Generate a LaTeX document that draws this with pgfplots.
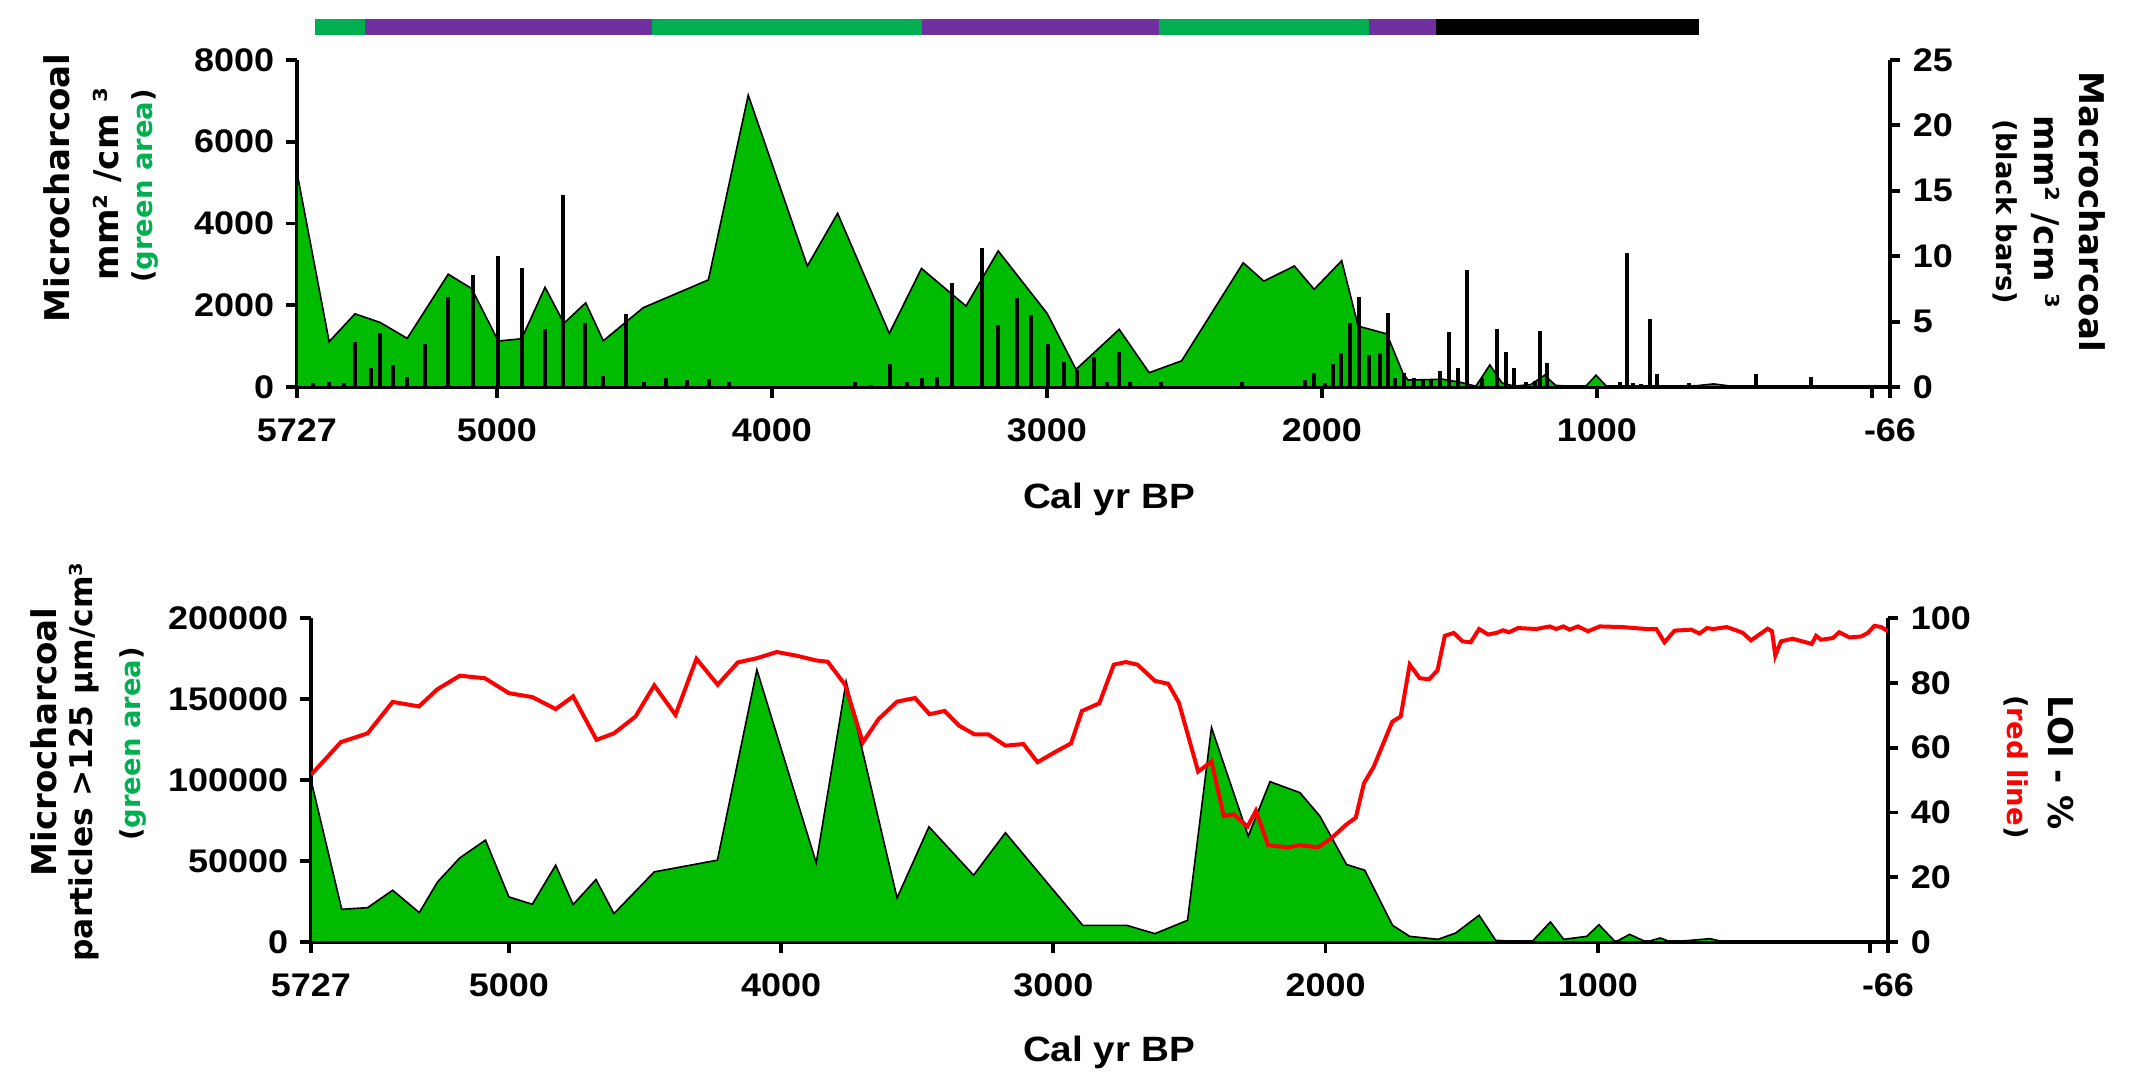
\documentclass[border=0pt]{standalone}
\usepackage{fontspec}
\usepackage{pgfplots}
\pgfplotsset{compat=1.18}
\newfontfamily\tickfont{Liberation Sans}[FakeStretch=1.1]
\newfontfamily\labfont{DejaVu Sans}

\definecolor{areagreen}{RGB}{0,187,0}
\definecolor{zonegreen}{RGB}{0,176,80}
\definecolor{zonepurple}{RGB}{112,48,160}

\pgfplotsset{
  charcoal/.style={
    scale only axis,
    xmin=-66, xmax=5727, x dir=reverse,
    tick align=outside,
    major tick length=1.05mm,
    axis line style={line width=0.38mm, -},
    every tick/.style={black, line width=0.38mm},
    tick label style={font=\tickfont\bfseries\fontsize{9.3}{11}\selectfont},
    xticklabel style={yshift=-0.9mm},
    /pgf/number format/.cd, fixed, 1000 sep={}, assume math mode=true,
  },
}
\newcommand{\biglab}{\labfont\bfseries\fontsize{9.7}{11}\selectfont}
\newcommand{\midlab}{\labfont\bfseries\fontsize{8.9}{10}\selectfont}
\newcommand{\smalllab}{\labfont\bfseries\fontsize{7.8}{9}\selectfont}

\begin{document}
\begin{tikzpicture}
\path (0,0) rectangle (214.2mm,107.9mm);

% zone bar above the top panel
\begin{axis}[scale only axis, at={(29.7mm,104.4mm)}, anchor=south west,
  width=159.3mm, height=1.6mm, xmin=-66, xmax=5727, x dir=reverse,
  ymin=0, ymax=1, hide axis]
\addplot[fill=zonegreen, draw=none] coordinates {(5661,1) (5480,1)} \closedcycle;
\addplot[fill=zonepurple, draw=none] coordinates {(5480,1) (4435,1)} \closedcycle;
\addplot[fill=zonegreen, draw=none] coordinates {(4435,1) (3453,1)} \closedcycle;
\addplot[fill=zonepurple, draw=none] coordinates {(3453,1) (2594,1)} \closedcycle;
\addplot[fill=zonegreen, draw=none] coordinates {(2594,1) (1830,1)} \closedcycle;
\addplot[fill=zonepurple, draw=none] coordinates {(1830,1) (1586,1)} \closedcycle;
\addplot[fill=black, draw=none] coordinates {(1586,1) (629,1)} \closedcycle;
\end{axis}

% top panel: microcharcoal area
\begin{axis}[charcoal, at={(29.7mm,69.2mm)}, anchor=south west,
  width=159.3mm, height=32.7mm,
  ymin=0, ymax=8000, ytick={0,2000,...,8000},
  axis x line*=bottom, axis y line*=left,
  xtick={5727,5000,4000,3000,2000,1000,0,-66},
  xticklabels={5727,5000,4000,3000,2000,1000,,-66}]
\addplot[fill=areagreen, draw=black, line width=0.16mm] coordinates {
(5727,5250) (5610,1110) (5516,1790) (5425,1580) (5326,1190) (5177,2760)
(5092,2410) (4995,1125) (4910,1180) (4825,2440) (4756,1560) (4677,2060)
(4613,1130) (4468,1940) (4231,2620) (4086,7140) (3871,2960) (3761,4250)
(3573,1310) (3456,2900) (3294,1980) (3177,3330) (2999,1800) (2894,430)
(2737,1410) (2628,350) (2510,640) (2286,3040) (2211,2590) (2100,2960)
(2028,2390) (1928,3090) (1868,1490) (1764,1300) (1704,320) (1686,170)
(1560,190) (1500,120) (1440,20) (1389,540) (1345,100) (1300,20)
(1240,60) (1190,290) (1150,40) (1100,20) (1040,20) (1003,290)
(965,20) (800,20) (640,30) (575,75) (510,20) (-66,0)
} \closedcycle;
\end{axis}

% top panel: macrocharcoal bars
\begin{axis}[charcoal, at={(29.7mm,69.2mm)}, anchor=south west,
  width=159.3mm, height=32.7mm,
  ymin=0, ymax=25, ytick={0,5,...,25},
  axis y line*=right, axis x line=none]
\addplot[ycomb, black, line width=0.4mm] coordinates {
(5670,0.28) (5611,0.41) (5556,0.28) (5516,3.47) (5458,1.48) (5425,4.10)
(5379,1.68) (5326,0.79) (5262,3.29) (5177,6.85) (5086,8.56) (4997,10.01)
(4910,9.07) (4825,4.41) (4761,14.68) (4679,4.87) (4613,0.84) (4532,5.58)
(4464,0.41) (4385,0.66) (4310,0.54) (4229,0.61) (4155,0.41) (3697,0.36)
(3639,0.15) (3572,1.76) (3507,0.41) (3455,0.66) (3400,0.79) (3345,7.92)
(3236,10.65) (3176,4.71) (3107,6.83) (3058,5.50) (2996,3.29) (2936,1.89)
(2891,1.30) (2827,2.32) (2780,0.36) (2737,2.70) (2697,0.36) (2585,0.36)
(2290,0.36) (2063,0.54) (2028,1.10) (1990,0.28) (1960,1.73) (1930,2.57)
(1897,4.92) (1866,6.85) (1827,2.45) (1788,2.62) (1759,5.68) (1733,0.66)
(1700,1.04) (1664,0.66) (1634,0.54) (1603,0.54) (1569,1.25) (1537,4.23)
(1506,1.48) (1474,8.94) (1416,0.66) (1362,4.41) (1332,2.70) (1302,1.43)
(1256,0.41) (1226,0.46) (1205,4.28) (1181,1.86) (917,0.36) (890,10.27)
(868,0.28) (838,0.20) (805,5.17) (783,0.99) (664,0.28) (422,0.97)
(222,0.74) (195,0.15)
};
\end{axis}

% bottom panel: microcharcoal particles
\begin{axis}[charcoal, at={(31.1mm,13.7mm)}, anchor=south west,
  width=157.7mm, height=32.4mm,
  ymin=0, ymax=200000, ytick={0,50000,100000,150000,200000},
  yticklabels={0,50000,100000,150000,200000}, scaled y ticks=false,
  axis x line*=bottom, axis y line*=left,
  xtick={5727,5000,4000,3000,2000,1000,0,-66},
  xticklabels={5727,5000,4000,3000,2000,1000,,-66}]
\addplot[fill=areagreen, draw=black, line width=0.16mm] coordinates {
(5727,100000) (5614,20200) (5519,21200) (5427,31960) (5329,18150)
(5262,37100) (5180,51960) (5086,62900) (5000,27840) (4914,23300)
(4828,47430) (4764,23090) (4680,38560) (4614,17530) (4466,43300)
(4234,50520) (4089,168050) (3871,48870) (3761,160840) (3574,27220)
(3457,71140) (3293,41240) (3176,67430) (2892,10310) (2731,10310)
(2627,5155) (2507,13400) (2419,132380) (2284,65370) (2204,98980)
(2094,92170) (2021,77740) (1923,47840) (1856,44330) (1754,10310)
(1691,3500) (1587,1650) (1522,5570) (1436,16500) (1375,1030)
(1324,620) (1243,0) (1174,12370) (1125,1650) (1040,3500)
(996,10720) (935,0) (883,4740) (822,0) (771,2470) (731,0)
(588,2060) (535,0) (-66,0)
} \closedcycle;
\end{axis}

% bottom panel: LOI
\begin{axis}[charcoal, at={(31.1mm,13.7mm)}, anchor=south west,
  width=157.7mm, height=32.4mm,
  ymin=0, ymax=100, ytick={0,20,...,100},
  axis y line*=right, axis x line=none]
\addplot[red, line width=0.4mm] coordinates {
(5727,51.6) (5617,61.7) (5519,64.4) (5427,74.1) (5330,72.7) (5263,78.0)
(5180,82.2) (5088,81.4) (5000,76.8) (4914,75.6) (4828,71.9) (4764,75.8)
(4678,62.4) (4614,64.4) (4535,69.6) (4466,79.2) (4388,70.1) (4311,87.4)
(4233,79.4) (4159,86.3) (4089,87.6) (4016,89.5) (3945,88.4) (3871,86.9)
(3829,86.5) (3765,79.4) (3700,61.6) (3642,68.8) (3574,74.2) (3508,75.3)
(3455,70.3) (3400,71.3) (3345,66.7) (3290,64.1) (3239,64.1) (3176,60.6)
(3110,61.1) (3058,55.5) (2990,58.8) (2935,61.3) (2895,71.3) (2831,73.7)
(2778,85.6) (2734,86.4) (2691,85.6) (2627,80.6) (2578,79.7) (2539,73.9)
(2468,52.6) (2419,55.7) (2374,38.9) (2336,39.4) (2287,35.6) (2256,40.5)
(2211,29.9) (2138,29.2) (2095,29.9) (2028,29.2) (1979,32.0) (1926,36.1)
(1889,38.4) (1859,49.0) (1823,54.1) (1755,68.0) (1724,69.6) (1691,85.6)
(1654,81.4) (1620,81.1) (1589,83.8) (1562,94.5) (1529,95.4) (1497,92.8)
(1467,92.5) (1436,96.6) (1403,94.9) (1373,95.4) (1348,96.2) (1326,95.6)
(1293,96.9) (1226,96.6) (1177,97.4) (1153,96.6) (1126,97.4) (1104,96.4)
(1073,97.4) (1036,95.9) (993,97.4) (908,97.2) (822,96.6) (785,96.6)
(755,92.5) (718,96.1) (657,96.4) (626,95.2) (599,96.9) (577,96.6)
(526,97.2) (492,96.2) (467,95.4) (437,93.1) (376,96.7) (360,95.9)
(348,88.4) (327,92.8) (284,93.6) (214,92.0) (198,94.5) (180,93.3)
(137,93.8) (113,95.6) (76,94.0) (33,94.3) (8,95.4) (-16,97.6)
(-41,97.2) (-66,95.9)
};
\end{axis}

% axis titles
\node[font=\tickfont\bfseries\fontsize{10}{12}\selectfont] at (110.9mm,58.0mm) {Cal yr BP};
\node[font=\tickfont\bfseries\fontsize{10}{12}\selectfont] at (110.9mm,2.7mm) {Cal yr BP};

\node[rotate=90, font=\biglab] at (5.7mm,89.1mm) {Microcharcoal};
\node[rotate=90, font=\biglab] at (10.7mm,89.5mm) {mm² /cm ³};
\node[rotate=90, font=\smalllab] at (14.5mm,89.3mm) {(\textcolor{zonegreen}{green area})};

\node[rotate=-90, font=\biglab] at (209.2mm,86.7mm) {Macrocharcoal};
\node[rotate=-90, font=\biglab] at (204.6mm,86.7mm) {mm² /cm ³};
\node[rotate=-90, font=\smalllab] at (200.5mm,86.7mm) {(black bars)};

\node[rotate=90, font=\biglab] at (4.4mm,33.7mm) {Microcharcoal};
\node[rotate=90, font=\midlab] at (8.4mm,31.7mm) {particles >125 µm/cm³};
\node[rotate=90, font=\smalllab] at (13.3mm,33.5mm) {(\textcolor{zonegreen}{green area})};

\node[rotate=-90, font=\biglab] at (206.1mm,31.6mm) {LOI - \%};
\node[rotate=-90, font=\smalllab] at (201.6mm,31.2mm) {(\textcolor{red}{red line})};
\end{tikzpicture}
\end{document}
